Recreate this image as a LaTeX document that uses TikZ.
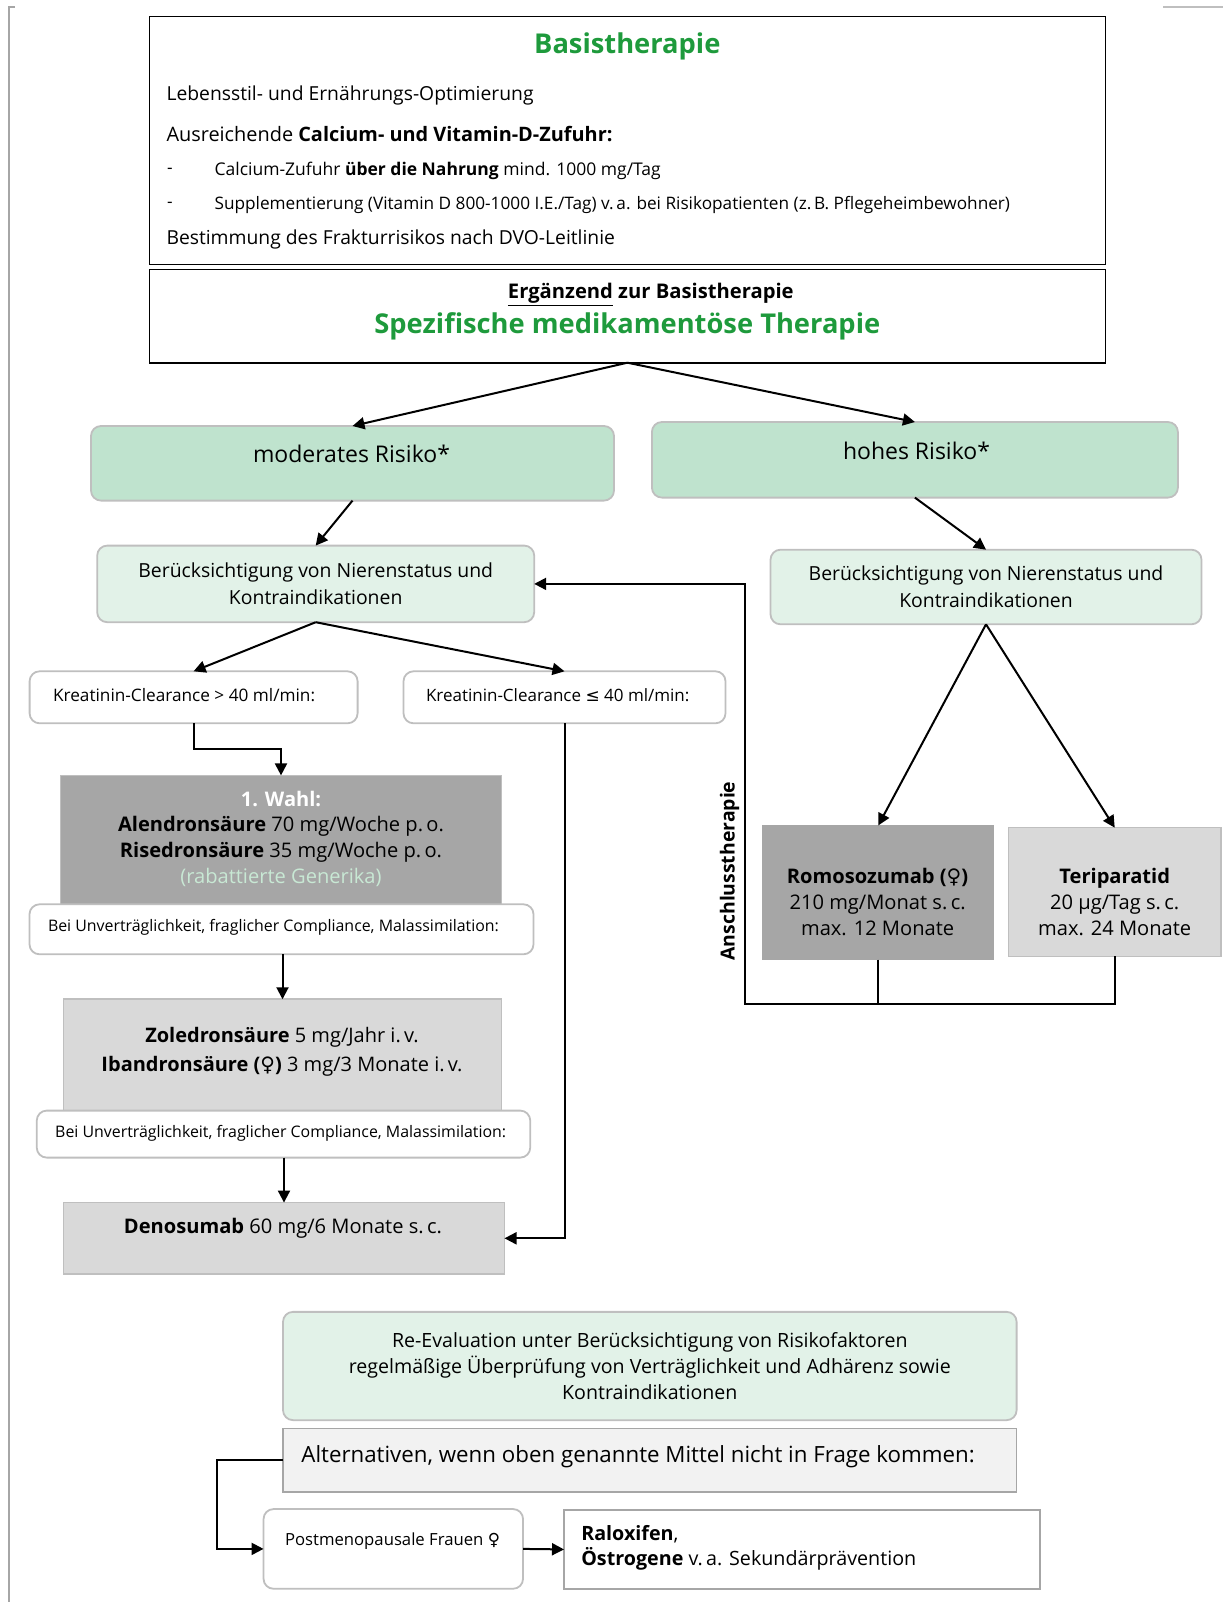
\documentclass[tikz,border=0pt]{standalone}
\usepackage{fontspec}
\setmainfont{Open Sans}
\newfontfamily\symfont{DejaVu Sans}
\usetikzlibrary{arrows.meta}

\definecolor{mintdark}{HTML}{BFE3CE}
\definecolor{mintlight}{HTML}{E2F2E8}
\definecolor{graydark}{HTML}{A6A6A6}
\definecolor{graylight}{HTML}{D9D9D9}
\definecolor{grayalt}{HTML}{F2F2F2}
\definecolor{bordergray}{HTML}{BFBFBF}
\definecolor{titlegreen}{HTML}{1E9A3C}
\definecolor{generikagreen}{HTML}{C8E8D4}

\newcommand{\fsz}[2]{\fontsize{#1}{#2}\selectfont}
\newcommand{\fem}{{\symfont\char"2640}}
\newcommand{\leqsym}{{\symfont\char"2264}}

\begin{document}
\begin{tikzpicture}[x=1pt, y=-1pt,
  every node/.style={inner sep=0pt, outer sep=0pt},
  frame/.style={draw=black, line width=1.6pt},
  riskbox/.style={draw=bordergray, fill=mintdark, line width=1.8pt, rounded corners=10pt},
  notebox/.style={draw=bordergray, fill=mintlight, line width=1.8pt, rounded corners=10pt},
  whitebox/.style={draw=bordergray, fill=white, line width=1.8pt, rounded corners=10pt},
  drugdark/.style={draw=bordergray, fill=graydark, line width=1.6pt},
  druglight/.style={draw=bordergray, fill=graylight, line width=1.6pt},
  title/.style={text=titlegreen, font=\fsz{27.3}{30}\bfseries},
  body/.style={font=\fsz{19.3}{24}},
  small/.style={font=\fsz{17.2}{20}},
  arr/.style={line width=2pt, -{Triangle[length=12pt,width=12pt]}}]

\useasboundingbox (0,0) rectangle (1223,1602);

% page edges
\draw[graydark, line width=2pt] (15,7) -- (9,7) -- (9,1602);
\draw[bordergray, line width=2pt] (1163,7) -- (1223,7);

% Basistherapie
\node[frame, minimum width=956, minimum height=248] (basis) at (627.4,140.5) {};
\node[title] (basisT) at (627.3,46.5) {Basistherapie};
\node[body, anchor=west] (lebens) at (166.5,95.5) {Lebensstil- und Ernährungs-Optimierung};
\node[body, font=\fsz{19.9}{24}, anchor=west] (calvit) at (166.5,134.3) {Ausreichende \textbf{Calcium- und Vitamin-D-Zufuhr:}};
\node[small, anchor=west] (dashA) at (167,171) {-};
\node[small, font=\fsz{17.5}{20}, anchor=west] (nahrung) at (214.6,171) {Calcium-Zufuhr \textbf{über die Nahrung} mind. 1000 mg/Tag};
\node[small, anchor=west] (dashB) at (167,204.8) {-};
\node[small, anchor=west] (suppl) at (214.6,204.8) {Supplementierung (Vitamin D 800-1000 I.E./Tag) v.\,a. bei Risikopatienten (z.\,B. Pflegeheimbewohner)};
\node[body, anchor=west] (dvo) at (166.5,239.5) {Bestimmung des Frakturrisikos nach DVO-Leitlinie};

% Spezifische Therapie
\node[frame, minimum width=956, minimum height=93] (spez) at (627.4,316.2) {};
\node[font=\fsz{20.2}{22}\bfseries] (ergT) at (650.8,294.5) {\underline{Ergänzend} zur Basistherapie};
\node[title] (spezT) at (627.3,326.5) {Spezifische medikamentöse Therapie};

% Risiko
\node[riskbox, minimum width=523, minimum height=74.6] (mod) at (352.5,463.3) {};
\node[font=\fsz{23}{26}] (modT) at (351.5,453.6) {moderates Risiko*};
\node[riskbox, minimum width=526, minimum height=75.6] (hoch) at (914.9,459.8) {};
\node[font=\fsz{23}{26}] (hochT) at (916.5,450.5) {hohes Risiko*};

\node[notebox, minimum width=437, minimum height=76.6, align=center, font=\fsz{19.4}{26.6}] (berL) at (315.7,583.9)
  {Berücksichtigung von Nierenstatus und\\Kontraindikationen};
\node[notebox, minimum width=431, minimum height=74.6, align=center, font=\fsz{19.4}{26.6}] (berR) at (986,587)
  {Berücksichtigung von Nierenstatus und\\Kontraindikationen};

% Kreatinin-Clearance
\node[whitebox, minimum width=328, minimum height=52] (kr1) at (193.6,697.3) {};
\node[font=\fsz{17.2}{20}, anchor=west] (kr1T) at (53.1,695.2) {Kreatinin-Clearance > 40 ml/min:};
\node[whitebox, minimum width=322, minimum height=52] (kr2) at (564.5,697.3) {};
\node[font=\fsz{17}{20}, anchor=west] (kr2T) at (426,695.2) {Kreatinin-Clearance \leqsym{} 40 ml/min:};

% linke Kette
\node[drugdark, minimum width=441, minimum height=130] (wahl) at (281,840.4) {};
\node[align=center, font=\fsz{20.1}{25.9}] (wahlT) at (281,838.8)
  {\textcolor{white}{\bfseries 1. Wahl:}\\
   \textbf{Alendronsäure} 70 mg/Woche p.\,o.\\
   \textbf{Risedronsäure} 35 mg/Woche p.\,o.\\
   \textcolor{generikagreen}{(rabattierte Generika)}};
\node[whitebox, minimum width=504, minimum height=50] (unv1) at (281.5,929.3) {};
\node[font=\fsz{15.9}{19}, anchor=west] (unv1T) at (48,927.5) {Bei Unverträglichkeit, fraglicher Compliance, Malassimilation:};

\node[druglight, minimum width=438, minimum height=114.5] (zol) at (282.5,1056.5) {};
\node[align=center, font=\fsz{20}{29.6}] (zolT) at (282,1051.8)
  {\textbf{Zoledronsäure} 5 mg/Jahr i.\,v.\\
   \textbf{Ibandronsäure (\fem)} 3 mg/3 Monate i.\,v.};
\node[whitebox, minimum width=493.5, minimum height=47] (unv2) at (283.5,1134.1) {};
\node[font=\fsz{15.9}{19}, anchor=west] (unv2T) at (55.2,1133) {Bei Unverträglichkeit, fraglicher Compliance, Malassimilation:};

\node[druglight, minimum width=441, minimum height=71.5] (deno) at (284,1238.3) {};
\node[font=\fsz{20.1}{24}] (denoT) at (283,1228) {\textbf{Denosumab} 60 mg/6 Monate s.\,c.};

% hohes Risiko
\node[drugdark, draw=graydark, minimum width=230, minimum height=134] (romo) at (878.2,892.5) {};
\node[align=center, font=\fsz{20.1}{26}] (romoT) at (877.6,902.3)
  {\textbf{Romosozumab (\fem)}\\210 mg/Monat s.\,c.\\max. 12 Monate};
\node[druglight, minimum width=212.5, minimum height=128.7] (teri) at (1114.7,892) {};
\node[align=center, font=\fsz{20.1}{26}] (teriT) at (1114.7,902.3)
  {\textbf{Teriparatid}\\20 µg/Tag s.\,c.\\max. 24 Monate};
\node[rotate=90, font=\fsz{19.4}{22}\bfseries] (ansch) at (729.5,871) {Anschlusstherapie};
\coordinate (join) at (744.8,1004.3);

% Re-Evaluation und Alternativen
\node[notebox, minimum width=733.6, minimum height=108.3, align=center, font=\fsz{19.6}{25.8}] (reeval) at (649.8,1366)
  {Re-Evaluation unter Berücksichtigung von Risikofaktoren\\
   regelmäßige Überprüfung von Verträglichkeit und Adhärenz sowie\\
   Kontraindikationen};
\node[draw=graydark, fill=grayalt, line width=1.6pt, minimum width=733.6, minimum height=63.4] (alt) at (649.8,1460) {};
\node[font=\fsz{22.3}{25}, anchor=west] (altT) at (301.4,1456.5) {Alternativen, wenn oben genannte Mittel nicht in Frage kommen:};
\node[whitebox, minimum width=259.5, minimum height=79.7] (post) at (393.3,1548.9) {};
\node[font=\fsz{16.7}{19}, anchor=west] (postT) at (285,1540.7) {Postmenopausale Frauen \fem};
\node[draw=graydark, fill=white, line width=1.6pt, minimum width=476, minimum height=78.7] (ral) at (802,1549.4) {};
\node[font=\fsz{19.7}{25.5}, align=left, anchor=west] (ralT) at (581.3,1547.7)
  {\textbf{Raloxifen},\\\textbf{Östrogene} v.\,a. Sekundärprävention};

% Pfeile
\path[arr] (spez.south) edge (mod.north) edge (hoch.north);
\path[arr] (mod.south) edge (berL.north);
\path[arr] (hoch.south) edge (berR.north);
\path[arr] (berL.south) edge (kr1.north) edge (kr2.north);
\draw[arr] (kr1.south) -- ++(0,25.5) -| (wahl.north);
\draw[arr] (zol.north |- unv1.south) -- (zol.north);
\draw[arr] (deno.north |- unv2.south) -- (deno.north);
\draw[arr] (kr2.south) |- (deno.east);
\path[arr] (berR.south) edge (romo.north) edge (teri.north);
\draw[line width=2pt] (romo.south) -- (romo.south |- join);
\draw[arr] (teri.south) |- (join) |- (berL.east);
\draw[arr] (alt.west) -- ++(-66.4,0) |- (post.west);
\draw[arr] (post.east) -- (ral.west);
\end{tikzpicture}
\end{document}
